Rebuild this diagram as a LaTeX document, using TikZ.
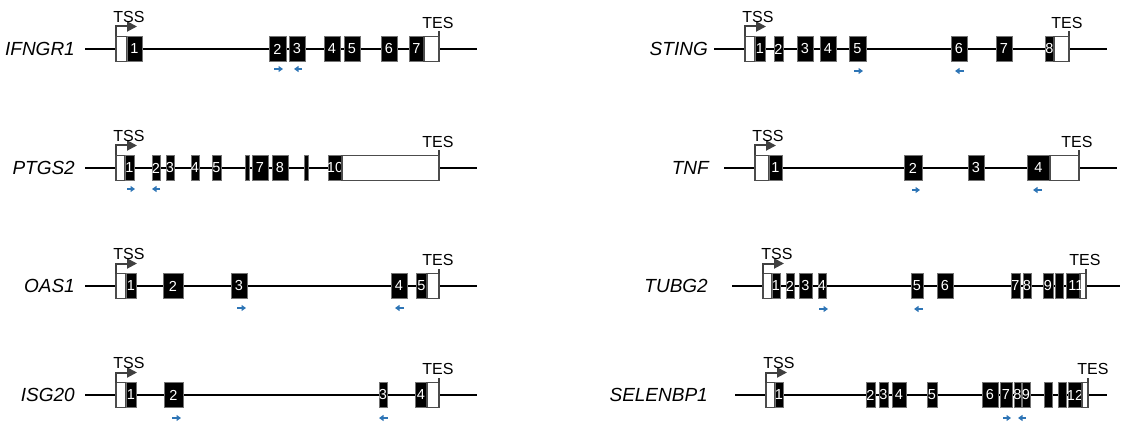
\documentclass[tikz,border=0pt]{standalone}
\usepackage{fontspec}
\setmainfont{Liberation Sans}
\usetikzlibrary{arrows.meta,calc}
\definecolor{primerblue}{RGB}{46,117,182}
\definecolor{tssgray}{RGB}{64,64,64}
% exon box: name, y, x1, x2, label
\newcommand\ex[5]{\node[exonbox, minimum width={#4-#3}] (#1) at ({(#3+#4)/2},#2) {};\node[exnum] at (#1.center) {#5};}
% UTR box: name, y, x1, x2
\newcommand\utr[4]{\node[utrbox, minimum width={#4-#3}] (#1) at ({(#3+#4)/2},#2) {};}
% TSS: utr node, text node name, x offset
\newcommand\tss[3]{\draw[tssarrow] (#1.north west) -- ++(0,-10) -- ++(21,0);\node[tsstext] (#2) at ($(#1.north west)+(#3,-19.5)$) {TSS};}
% TES: utr node, text node name, x offset
\newcommand\tes[3]{\draw[testick] (#1.north east) -- ++(0,-5);\node[tsstext] (#2) at ($(#1.north east)+(#3,-13.5)$) {TES};}
% primer: name, x start, x end, y
\newcommand\primer[4]{\coordinate (#1a) at (#2,#4);\coordinate (#1b) at (#3,#4);\draw[primer] (#1a) -- (#1b);}
% intron line: name, x1, x2, y
\newcommand\intron[4]{\coordinate (#1s) at (#2,#4);\coordinate (#1e) at (#3,#4);\draw[intronline] (#1s) -- (#1e);}
\begin{document}
\begin{tikzpicture}[x=1pt,y=-1pt,
 intronline/.style={line width=2.6pt,black},
 exonbox/.style={draw=black!55,fill=black,line width=0.8pt,minimum height=25pt,inner sep=0pt,outer sep=0pt},
 utrbox/.style={draw=black!70,fill=white,line width=1.1pt,minimum height=25pt,inner sep=0pt,outer sep=0pt},
 exnum/.style={text=white,font=\fontsize{14.5}{14.5}\selectfont,inner sep=0pt},
 genelabel/.style={font=\fontsize{19}{19}\selectfont\itshape,anchor=east,inner sep=0pt},
 tsstext/.style={font=\fontsize{16}{16}\selectfont,inner sep=0pt},
 tssarrow/.style={draw=tssgray,line width=2pt,-{Triangle[length=10pt,width=10pt]}},
 testick/.style={draw=tssgray,line width=2pt},
 primer/.style={draw=primerblue,line width=1.6pt,-{Triangle[length=4.5pt,width=6pt]}}]
\useasboundingbox (0,0) rectangle (1122,433);

% ---------------- IFNGR1 ----------------
\node[genelabel] (gA) at (75,49) {IFNGR1};
\intron{A}{85}{477}{49}
\utr{Au5}{49}{116}{127}
\ex{A1}{49}{127}{142}{1}
\ex{A2}{49}{269}{286}{2}
\ex{A3}{49}{289}{305}{3}
\ex{A4}{49}{324}{340}{4}
\ex{A5}{49}{344}{360}{5}
\ex{A6}{49}{381}{397}{6}
\ex{A7}{49}{409}{424}{7}
\utr{Au3}{49}{424}{439}
\tss{Au5}{Atss}{13}
\tes{Au3}{Ates}{-1}
\primer{Af}{274}{283}{69}
\primer{Ar}{302}{294}{69}

% ---------------- PTGS2 ----------------
\node[genelabel] (gB) at (75,168) {PTGS2};
\intron{B}{85}{477}{168}
\utr{Bu5}{168}{116}{125}
\ex{B1}{168}{125}{134}{1}
\ex{B2}{168}{152}{160}{2}
\ex{B3}{168}{166}{174}{3}
\ex{B4}{168}{191}{199}{4}
\ex{B5}{168}{212}{221}{5}
\ex{B6}{168}{245}{249}{}
\ex{B7}{168}{252}{268}{7}
\ex{B8}{168}{272}{288}{8}
\ex{B9}{168}{304}{308}{}
\ex{B10}{168}{328}{342}{10}
\utr{Bu3}{168}{342}{439}
\tss{Bu5}{Btss}{13}
\tes{Bu3}{Btes}{-1}
\primer{Bf}{127}{135}{189}
\primer{Br}{160}{152}{189}

% ---------------- OAS1 ----------------
\node[genelabel] (gC) at (75,286) {OAS1};
\intron{C}{85}{477}{286}
\utr{Cu5}{286}{116}{126}
\ex{C1}{286}{126}{136}{1}
\ex{C2}{286}{163}{183}{2}
\ex{C3}{286}{231}{247}{3}
\ex{C4}{286}{391}{407}{4}
\ex{C5}{286}{416}{427}{5}
\utr{Cu3}{286}{427}{439}
\tss{Cu5}{Ctss}{13}
\tes{Cu3}{Ctes}{-1}
\primer{Cf}{237}{246}{308}
\primer{Cr}{404}{395}{308}

% ---------------- ISG20 ----------------
\node[genelabel] (gD) at (75,395) {ISG20};
\intron{D}{85}{477}{395}
\utr{Du5}{395}{116}{126}
\ex{D1}{395}{126}{136}{1}
\ex{D2}{395}{164}{183}{2}
\ex{D3}{395}{379}{387}{3}
\ex{D4}{395}{415}{427}{4}
\utr{Du3}{395}{427}{439}
\tss{Du5}{Dtss}{13}
\tes{Du3}{Dtes}{-1}
\primer{Df}{172}{181}{418}
\primer{Dr}{388}{379}{418}

% ---------------- STING ----------------
\node[genelabel] (gE) at (708,49) {STING};
\intron{E}{714}{1107}{49}
\utr{Eu5}{49}{745}{755}
\ex{E1}{49}{755}{765}{1}
\ex{E2}{49}{774}{783}{2}
\ex{E3}{49}{797}{813}{3}
\ex{E4}{49}{820}{836}{4}
\ex{E5}{49}{849}{866}{5}
\ex{E6}{49}{951}{967}{6}
\ex{E7}{49}{996}{1012}{7}
\ex{E8}{49}{1045}{1054}{8}
\utr{Eu3}{49}{1054}{1069}
\tss{Eu5}{Etss}{13}
\tes{Eu3}{Etes}{-2}
\primer{Ef}{854}{863}{71}
\primer{Er}{964}{955}{71}

% ---------------- TNF ----------------
\node[genelabel] (gF) at (709,168) {TNF};
\intron{F}{724}{1117}{168}
\utr{Fu5}{168}{755}{769}
\ex{F1}{168}{769}{782}{1}
\ex{F2}{168}{904}{922}{2}
\ex{F3}{168}{968}{984}{3}
\ex{F4}{168}{1027}{1050}{4}
\utr{Fu3}{168}{1050}{1079}
\tss{Fu5}{Ftss}{13}
\tes{Fu3}{Ftes}{-2}
\primer{Ff}{912}{920}{190}
\primer{Fr}{1042}{1033}{190}

% ---------------- TUBG2 ----------------
\node[genelabel] (gG) at (708,286) {TUBG2};
\intron{G}{732}{1120}{286}
\utr{Gu5}{286}{763}{772}
\ex{G1}{286}{772}{780}{1}
\ex{G2}{286}{786}{794}{2}
\ex{G3}{286}{799}{812}{3}
\ex{G4}{286}{818}{826}{4}
\ex{G5}{286}{911}{923}{5}
\ex{G6}{286}{937}{953}{6}
\ex{G7}{286}{1011}{1020}{7}
\ex{G8}{286}{1023}{1031}{8}
\ex{G9}{286}{1043}{1053}{9}
\ex{G10}{286}{1055}{1063}{}
\ex{G11}{286}{1066}{1080}{}
\utr{Gu3}{286}{1080}{1086}
\node[exnum] at (1076,286) {11};
\tss{Gu5}{Gtss}{14}
\tes{Gu3}{Gtes}{-1}
\primer{Gf}{819}{828}{309}
\primer{Gr}{923}{914}{309}

% ---------------- SELENBP1 ----------------
\node[genelabel] (gH) at (708,395) {SELENBP1};
\intron{H}{735}{1107}{395}
\utr{Hu5}{395}{766}{775}
\ex{H1}{395}{775}{783}{1}
\ex{H2}{395}{866}{875}{2}
\ex{H3}{395}{879}{888}{3}
\ex{H4}{395}{892}{906}{4}
\ex{H5}{395}{927}{937}{5}
\ex{H6}{395}{982}{998}{6}
\ex{H7}{395}{1000}{1012}{7}
\ex{H8}{395}{1014}{1021}{8}
\ex{H9}{395}{1022}{1030}{9}
\ex{H10}{395}{1044}{1052}{}
\ex{H11}{395}{1058}{1066}{}
\ex{H12}{395}{1068}{1082}{12}
\utr{Hu3}{395}{1082}{1088}
\tss{Hu5}{Htss}{13}
\tes{Hu3}{Htes}{5}
\primer{Hf}{1003}{1011}{418}
\primer{Hr}{1026}{1018}{418}
\end{tikzpicture}
\end{document}
